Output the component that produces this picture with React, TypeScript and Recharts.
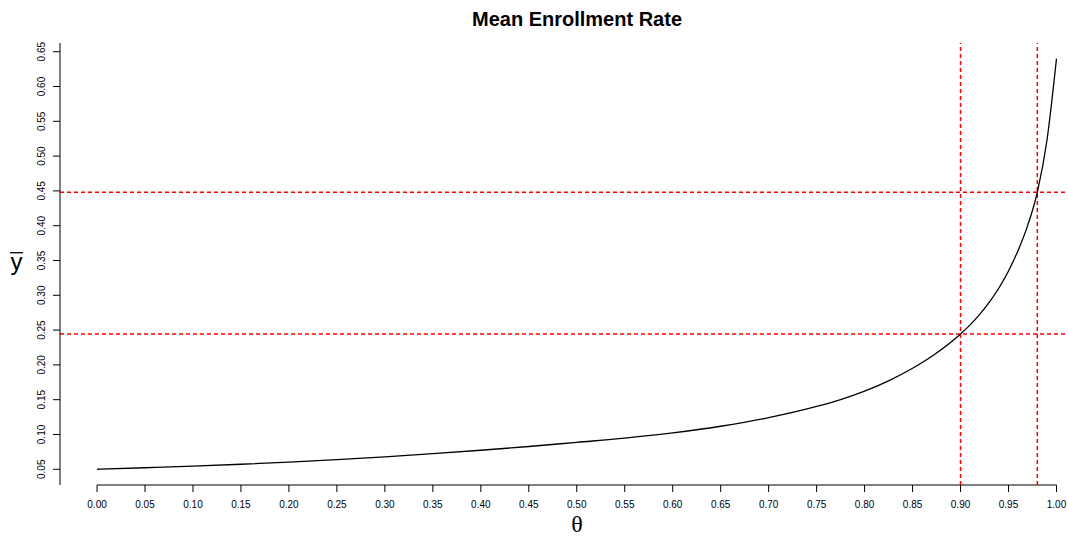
import React from 'react';
import { LineChart, Line, XAxis, YAxis, ReferenceLine, Customized } from 'recharts';

// ---- data ----
const thetaValues = [0, 0.05, 0.1, 0.15, 0.2, 0.25, 0.3, 0.35, 0.4, 0.45, 0.5, 0.55, 0.6, 0.65, 0.7, 0.75, 0.775, 0.8, 0.825, 0.85, 0.875, 0.9, 0.91, 0.92, 0.93, 0.94, 0.95, 0.96, 0.97, 0.98, 0.99, 1];
const ybarValues = [0.05, 0.0522, 0.0545, 0.0572, 0.0604, 0.0639, 0.0679, 0.0724, 0.0773, 0.0827, 0.0887, 0.0947, 0.1022, 0.1118, 0.1241, 0.1402, 0.1502, 0.1623, 0.1771, 0.1951, 0.2171, 0.2445, 0.2575, 0.2725, 0.29, 0.3105, 0.335, 0.3645, 0.4005, 0.448, 0.522, 0.64];

const xTickValues = [0, 0.05, 0.1, 0.15, 0.2, 0.25, 0.3, 0.35, 0.4, 0.45, 0.5, 0.55, 0.6, 0.65, 0.7, 0.75, 0.8, 0.85, 0.9, 0.95, 1];
const xTickLabels = ['0.00', '0.05', '0.10', '0.15', '0.20', '0.25', '0.30', '0.35', '0.40', '0.45', '0.50', '0.55', '0.60', '0.65', '0.70', '0.75', '0.80', '0.85', '0.90', '0.95', '1.00'];
const yTickValues = [0.05, 0.1, 0.15, 0.2, 0.25, 0.3, 0.35, 0.4, 0.45, 0.5, 0.55, 0.6, 0.65];
const yTickLabels = ['0.05', '0.10', '0.15', '0.20', '0.25', '0.30', '0.35', '0.40', '0.45', '0.50', '0.55', '0.60', '0.65'];

const refThetas = [0.9, 0.98];
const refYbars = [0.2445, 0.448];

const titleText = 'Mean Enrollment Rate';
const xTitleText = 'θ';
const yTitleText = 'y';

const X_DOMAIN: [number, number] = [-0.0386, 1.012];
const Y_DOMAIN: [number, number] = [0.0274, 0.6625];

const data = thetaValues.map((t, i) => ({ theta: t, ybar: ybarValues[i] }));

const FONT = "'Liberation Sans', Arial, Helvetica, sans-serif";

const XTick = (props: any) => {
  const { x, payload } = props;
  const idx = xTickValues.indexOf(payload.value);
  const label = idx >= 0 ? xTickLabels[idx] : String(payload.value);
  return (
    <text x={x} y={508} textAnchor="middle" fontSize={10} fontFamily={FONT} fill="#000">
      {label}
    </text>
  );
};

const YTick = (props: any) => {
  const { y, payload } = props;
  const idx = yTickValues.indexOf(payload.value);
  const label = idx >= 0 ? yTickLabels[idx] : String(payload.value);
  const bx = 45.5;
  return (
    <text
      x={bx}
      y={y}
      transform={`rotate(-90 ${bx} ${y})`}
      textAnchor="middle"
      fontSize={10}
      fontFamily={FONT}
      fill="#000"
    >
      {label}
    </text>
  );
};

const Titles = () => (
  <g>
    <text x={577} y={26} textAnchor="middle" fontSize={20} fontWeight="bold" fontFamily={FONT} fill="#000">
      {titleText}
    </text>
    <text x={577} y={532} textAnchor="middle" fontSize={24} fontFamily="'Liberation Serif', 'DejaVu Serif', serif" fill="#000">
      {xTitleText}
    </text>
    <text x={16.5} y={269.5} textAnchor="middle" fontSize={24} fontFamily={FONT} fill="#000">
      {yTitleText}
    </text>
    <line x1={10} x2={23} y1={252.7} y2={252.7} stroke="#000" strokeWidth={1.3} />
  </g>
);

export default function App() {
  return (
    <div style={{ position: 'absolute', left: 0, top: 0, width: 1068, height: 536, overflow: 'hidden', background: '#fff' }}>
      <LineChart width={1068} height={536} data={data} margin={{ top: 43, right: 0, left: 0, bottom: 0 }}>
        <XAxis
          dataKey="theta"
          type="number"
          domain={X_DOMAIN}
          allowDataOverflow
          ticks={xTickValues}
          interval={0}
          tick={<XTick />}
          tickSize={7}
          tickLine={{ stroke: '#000', strokeWidth: 1 }}
          axisLine={false}
          height={51}
        />
        <YAxis
          type="number"
          domain={Y_DOMAIN}
          allowDataOverflow
          ticks={yTickValues}
          interval={0}
          tick={<YTick />}
          tickSize={7}
          tickLine={{ stroke: '#000', strokeWidth: 1 }}
          axisLine={{ stroke: '#000', strokeWidth: 1 }}
          width={60}
        />
        <ReferenceLine
          segment={[{ x: 0, y: Y_DOMAIN[0] }, { x: 1, y: Y_DOMAIN[0] }]}
          stroke="#000"
          strokeWidth={1}
          ifOverflow="visible"
        />
        {refYbars.map((v) => (
          <ReferenceLine key={'h' + v} y={v} stroke="#ff0000" strokeDasharray="4 3" strokeWidth={1.5} />
        ))}
        {refThetas.map((v) => (
          <ReferenceLine key={'v' + v} x={v} stroke="#ff0000" strokeDasharray="4 3" strokeWidth={1.5} />
        ))}
        <Line
          type="monotone"
          dataKey="ybar"
          stroke="#000"
          strokeWidth={1.3}
          dot={false}
          activeDot={false}
          isAnimationActive={false}
        />
        <Customized component={<Titles />} />
      </LineChart>
    </div>
  );
}
